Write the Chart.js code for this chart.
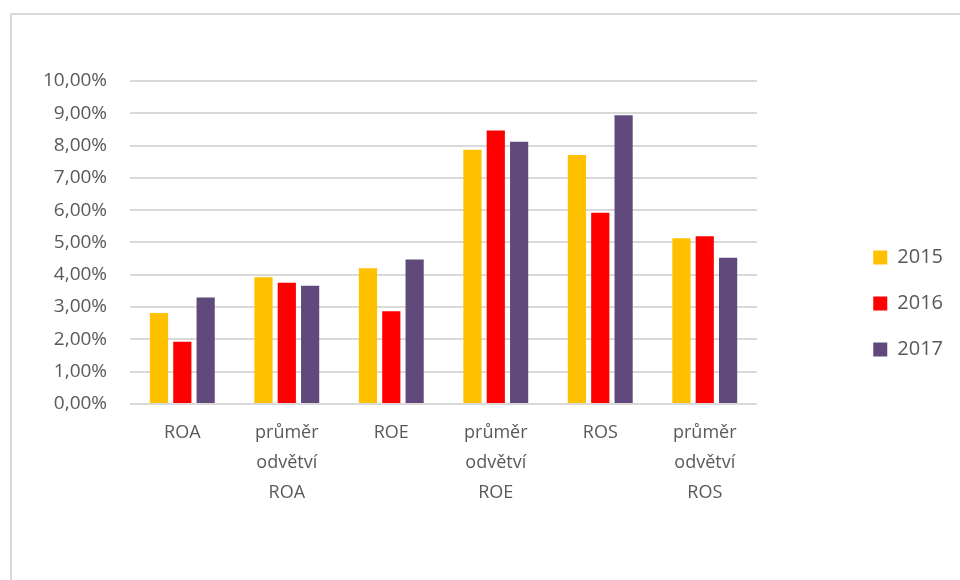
<!DOCTYPE html>
<html>
<head>
<meta charset="utf-8">
<script src="https://cdn.jsdelivr.net/npm/chart.js@4/dist/chart.umd.min.js"></script>
<style>
  html, body { margin: 0; padding: 0; background: #fff; overflow: hidden; }
  #frame {
    position: absolute; left: 10px; top: 13px; width: 1000px; height: 1000px;
    border-left: 2px solid #d9d9d9; border-top: 2px solid #d9d9d9;
  }
  #wrap { position: absolute; left: 0; top: 0; width: 960px; height: 580px; }
</style>
</head>
<body>
<div id="frame"></div>
<div id="wrap"><canvas id="chart" width="960" height="580"></canvas></div>
<script>
let categories = [
  "ROA",
  ["průměr", "odvětví", "ROA"],
  "ROE",
  ["průměr", "odvětví", "ROE"],
  "ROS",
  ["průměr", "odvětví", "ROS"]
];
let years = ["2015", "2016", "2017"];
let values2015 = [2.82, 3.92, 4.20, 7.87, 7.71, 5.13];
let values2016 = [1.93, 3.75, 2.87, 8.47, 5.92, 5.19];
let values2017 = [3.30, 3.66, 4.47, 8.12, 8.94, 4.53];
let colors = ["#ffc000", "#ff0000", "#604a7b"];
let yTicks = [0, 1, 2, 3, 4, 5, 6, 7, 8, 9, 10];

function percent(v) {
  return v.toFixed(2).replace(".", ",") + "%";
}

// legend sits far right of the plot, centred a bit below the plot middle
const legendSpot = {
  id: "legendSpot",
  beforeInit(chart) {
    const legend = chart.legend;
    const fit = legend.fit;
    legend.fit = function () {
      fit.call(this);
      this.naturalWidth = this.width;
      this.width = 196;
    };
  },
  afterLayout(chart) {
    const legend = chart.legend;
    legend.left = legend.right - legend.naturalWidth;
    legend.bottom = chart.scales.x.bottom;
    legend.top += 12;
  }
};

Chart.defaults.font.family = "'Open Sans', sans-serif";
Chart.defaults.color = "#595959";

new Chart(document.getElementById("chart"), {
  type: "bar",
  data: {
    labels: categories,
    datasets: [
      { label: years[0], data: values2015, backgroundColor: colors[0] },
      { label: years[1], data: values2016, backgroundColor: colors[1] },
      { label: years[2], data: values2017, backgroundColor: colors[2] }
    ]
  },
  options: {
    responsive: false,
    animation: false,
    layout: { padding: { left: 20, right: 7, top: 81, bottom: 66 } },
    datasets: { bar: { categoryPercentage: 0.67, barPercentage: 0.78 } },
    plugins: {
      tooltip: { enabled: false },
      legend: {
        position: "right",
        labels: {
          boxWidth: 14,
          boxHeight: 14,
          padding: 26,
          font: { size: 20 },
          color: "#595959"
        }
      }
    },
    scales: {
      x: {
        grid: { display: false },
        border: { display: false },
        ticks: {
          padding: 6,
          maxRotation: 0,
          autoSkip: false,
          font: { size: 18, lineHeight: 1.667 },
          color: "#595959"
        }
      },
      y: {
        min: 0,
        max: 10,
        afterBuildTicks(axis) {
          axis.ticks = yTicks.map(v => ({ value: v }));
        },
        grid: { color: "#d9d9d9", lineWidth: 2, drawTicks: false },
        border: { display: false },
        ticks: {
          padding: 23,
          font: { size: 19 },
          color: "#595959",
          callback: v => percent(v)
        }
      }
    }
  },
  plugins: [legendSpot]
});
</script>
</body>
</html>
